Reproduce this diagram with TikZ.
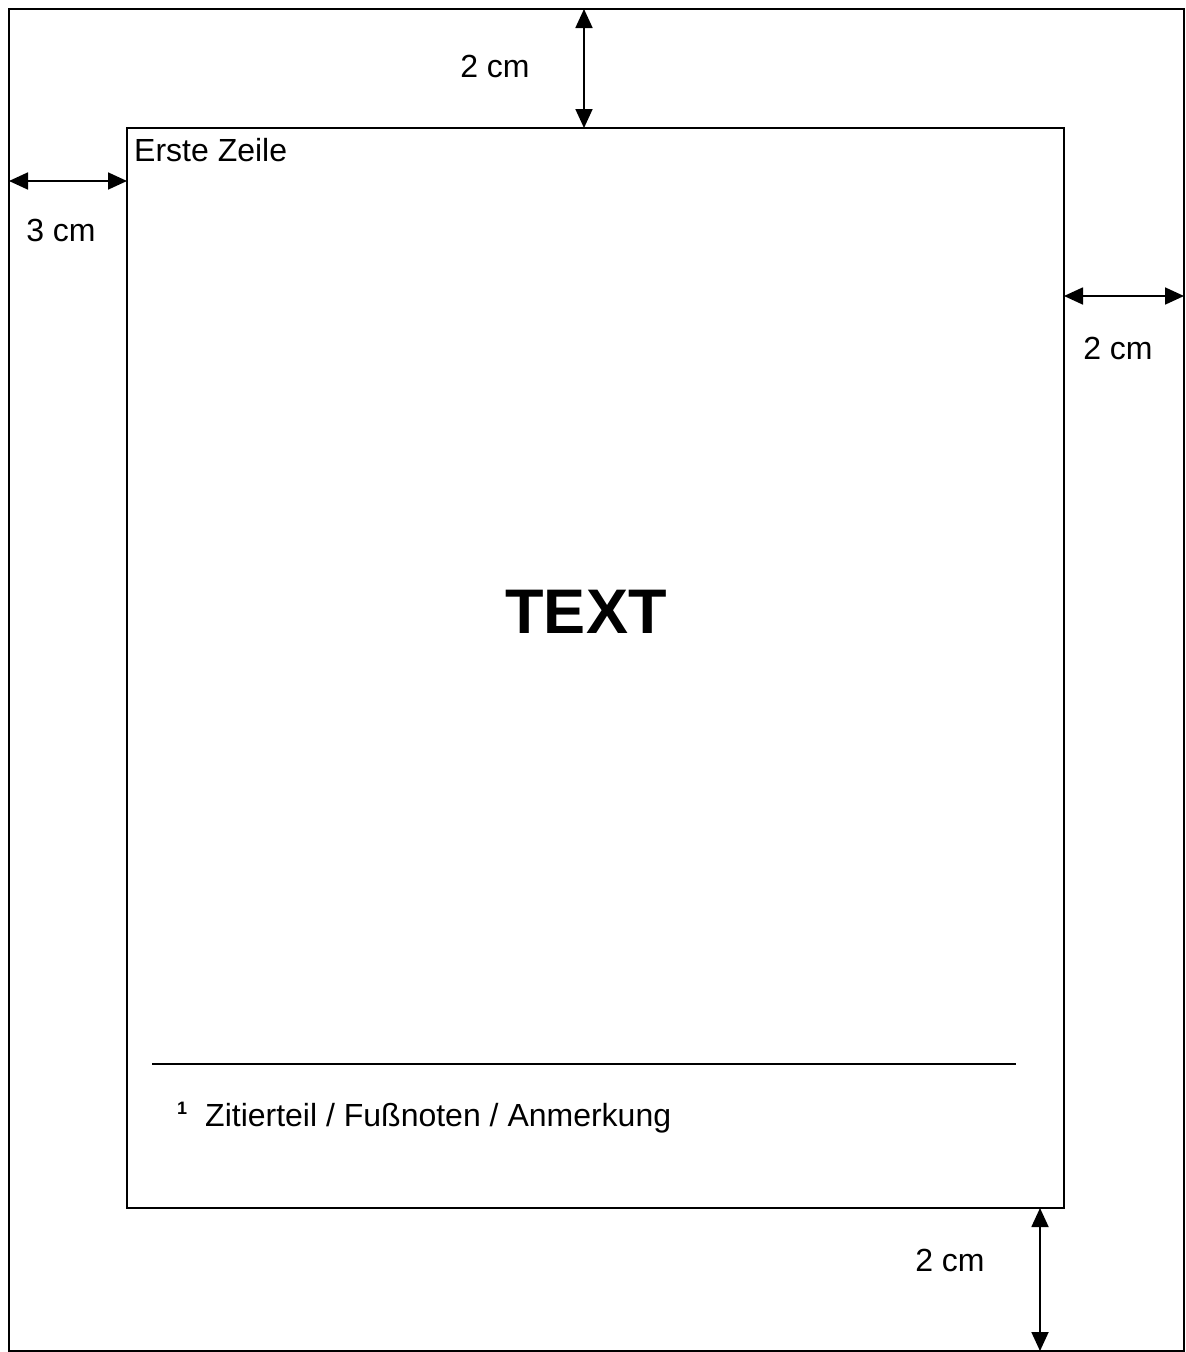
\documentclass[tikz,border=0pt]{standalone}
\usepackage{fontspec}
\setmainfont{Liberation Sans}
\usetikzlibrary{arrows.meta}
\begin{document}
\begin{tikzpicture}[x=1pt,y=-1pt,
  frame/.style={draw=black,line width=1.8pt},
  dim/.style={draw=black,line width=1.8pt,{Triangle[length=19pt,width=17pt]}-{Triangle[length=19pt,width=17pt]}},
  lbl/.style={inner sep=0pt,font=\fontsize{32}{36}\selectfont,anchor=base},
  rule/.style={draw=black,line width=1.5pt}]
\useasboundingbox (0,0) rectangle (1186,1352);
% outer page
\coordinate (oTL) at (9,9);
\coordinate (oBR) at (1184,1351);
\draw[frame] (oTL) rectangle (oBR);
% inner text area
\coordinate (iTL) at (127,128);
\coordinate (iBR) at (1064,1208);
\draw[frame] (iTL) rectangle (iBR);
% dimension arrows
\coordinate (tA) at (584,9);
\coordinate (tB) at (584,128);
\draw[dim] (tA) -- (tB);
\coordinate (lA) at (9,181);
\coordinate (lB) at (127,181);
\draw[dim] (lA) -- (lB);
\coordinate (rA) at (1064,296);
\coordinate (rB) at (1184,296);
\draw[dim] (rA) -- (rB);
\coordinate (bA) at (1040,1208);
\coordinate (bB) at (1040,1351);
\draw[dim] (bA) -- (bB);
% labels
\node[lbl] (ltop) at (495,77) {2 cm};
\node[lbl] (lleft) at (61,241) {3 cm};
\node[lbl] (lright) at (1118,359) {2 cm};
\node[lbl] (lbot) at (950,1271) {2 cm};
\node[lbl,anchor=base west] (first) at (134,161) {Erste Zeile};
\node[inner sep=0pt,anchor=base,font=\fontsize{63}{70}\selectfont\bfseries] (main) at (586,633) {TEXT};
% footnote
\coordinate (fA) at (152,1064);
\coordinate (fB) at (1016,1064);
\draw[rule] (fA) -- (fB);
\node[inner sep=0pt,anchor=base west,font=\fontsize{18}{20}\selectfont\bfseries] (fnum) at (177,1114) {1};
\node[lbl,anchor=base west] (fn) at (205,1126) {Zitierteil / Fußnoten / Anmerkung};
\end{tikzpicture}
\end{document}
